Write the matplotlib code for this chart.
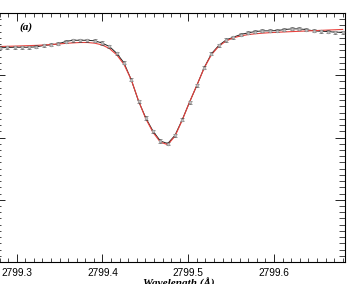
import matplotlib
matplotlib.use('Agg')
import matplotlib.pyplot as plt
from matplotlib.ticker import MultipleLocator

wavelength = [2799.2805, 2799.2890, 2799.2975, 2799.3060, 2799.3145, 2799.3230,
              2799.3315, 2799.3400, 2799.3485, 2799.3570, 2799.3655, 2799.3740,
              2799.3825, 2799.3910, 2799.3995, 2799.4080, 2799.4165, 2799.4250,
              2799.4335, 2799.4420, 2799.4505, 2799.4590, 2799.4675, 2799.4760,
              2799.4845, 2799.4930, 2799.5015, 2799.5100, 2799.5185, 2799.5270,
              2799.5355, 2799.5440, 2799.5525, 2799.5610, 2799.5695, 2799.5780,
              2799.5865, 2799.5950, 2799.6035, 2799.6120, 2799.6205, 2799.6290,
              2799.6375, 2799.6460, 2799.6545, 2799.6630, 2799.6715, 2799.6800]
observed = [3.441, 3.446, 3.450, 3.450, 3.450, 3.457, 3.478, 3.489, 3.505, 3.542,
            3.562, 3.562, 3.562, 3.553, 3.518, 3.462, 3.354, 3.200, 2.928, 2.585,
            2.313, 2.099, 1.944, 1.902, 2.035, 2.287, 2.569, 2.837, 3.120, 3.345,
            3.478, 3.566, 3.611, 3.654, 3.681, 3.702, 3.713, 3.713, 3.718, 3.734,
            3.745, 3.745, 3.734, 3.713, 3.707, 3.702, 3.691, 3.691]
fitted = [3.462, 3.465, 3.468, 3.472, 3.476, 3.480, 3.486, 3.493, 3.502, 3.512,
          3.520, 3.526, 3.526, 3.515, 3.487, 3.430, 3.330, 3.175, 2.930, 2.590,
          2.300, 2.080, 1.925, 1.885, 2.020, 2.280, 2.570, 2.840, 3.115, 3.330,
          3.465, 3.550, 3.600, 3.632, 3.652, 3.666, 3.676, 3.684, 3.690, 3.696,
          3.701, 3.706, 3.711, 3.716, 3.721, 3.726, 3.731, 3.736]
errors = [0.025] * len(observed)

W, H = 357, 284
fig = plt.figure(figsize=(W / 100, H / 100), dpi=100)
ax = fig.add_axes([-5.5 / W, 22 / H, 350.5 / W, 249 / H])

ax.plot(wavelength, observed, color='#222222', lw=0.7, zorder=2)
ax.plot(wavelength, fitted, color='#e8413c', lw=0.8, zorder=3)
ax.errorbar(wavelength, observed, yerr=errors, fmt='o', ms=2.0,
            mfc='#c4c4c4', mec='#909090', mew=0.4, ecolor='#404040',
            elinewidth=0.5, capsize=1.6, capthick=0.5, zorder=4)

ax.set_xlim(2799.2741, 2799.6827)
ax.set_ylim(0, 4)
ax.ticklabel_format(axis='x', useOffset=False)
ax.xaxis.set_major_locator(MultipleLocator(0.1))
ax.xaxis.set_minor_locator(MultipleLocator(0.01))
ax.yaxis.set_major_locator(MultipleLocator(1))
ax.yaxis.set_minor_locator(MultipleLocator(0.1))
ax.tick_params(axis='x', which='major', direction='in', length=5.5, width=0.6,
               top=True, labelsize=7.3, pad=4)
ax.tick_params(axis='x', which='minor', direction='in', length=2.8, width=0.5, top=True)
ax.tick_params(axis='y', which='major', direction='in', length=7, width=0.6,
               right=True, labelleft=False)
ax.tick_params(axis='y', which='minor', direction='in', length=4, width=0.5, right=True)
for lab in ax.get_xticklabels():
    lab.set_family(['Liberation Sans', 'DejaVu Sans'])
for s in ax.spines.values():
    s.set_linewidth(0.8)

ax.set_xlabel('Wavelength (Å)', family=['Liberation Serif', 'DejaVu Serif'],
              style='italic', weight='bold', fontsize=8)
ax.xaxis.set_label_coords((178.5 + 5.5) / 350.5, -15.5 / 249)
ax.text((19 + 5.5) / 350.5, 1 - 14 / 249, '(a)', transform=ax.transAxes,
        family=['Liberation Serif', 'DejaVu Serif'], style='italic',
        weight='bold', fontsize=8, va='center', ha='left')

fig.savefig('out.png', dpi=100)
